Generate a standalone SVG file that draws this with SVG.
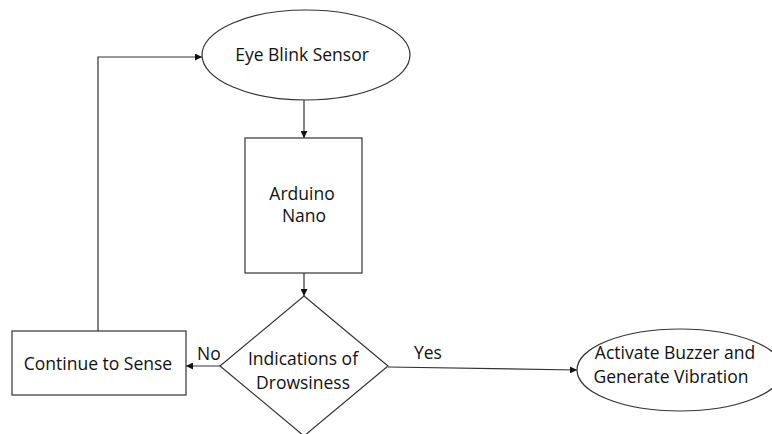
<svg xmlns="http://www.w3.org/2000/svg" width="772" height="434" viewBox="0 0 772 434">
<style>
.s{fill:#fff;stroke:#333;stroke-width:1.2}
.c{fill:none;stroke:#333;stroke-width:1.2}
.t{font-family:"Open Sans","Liberation Sans",sans-serif;font-size:17.5px;fill:#111}
</style>
<defs>
<marker id="a" viewBox="0 0 10 10" refX="10" refY="5" markerWidth="7" markerHeight="7" markerUnits="userSpaceOnUse" orient="auto">
<path d="M0,0 L10,5 L0,10 z" fill="#111"/>
</marker>
</defs>
<rect width="772" height="434" fill="#fff"/>
<g id="connectors">
<line class="c" x1="304" y1="100" x2="304" y2="138" marker-end="url(#a)"/>
<line class="c" x1="304" y1="273" x2="304" y2="296" marker-end="url(#a)"/>
<line class="c" x1="220" y1="366" x2="186" y2="366" marker-end="url(#a)"/>
<line class="c" x1="388" y1="367" x2="577" y2="370" marker-end="url(#a)"/>
<polyline class="c" points="98,331 98,57 202,57" marker-end="url(#a)"/>
<text class="t" x="197" y="360">No</text>
<text class="t" x="414" y="359">Yes</text>
</g>
<g id="eye">
<ellipse class="s" cx="306" cy="55" rx="104" ry="45"/>
<text class="t" x="302" y="61" text-anchor="middle">Eye Blink Sensor</text>
</g>
<g id="arduino">
<rect class="s" x="245" y="138" width="117" height="135"/>
<text class="t" x="302" y="200" text-anchor="middle">Arduino</text>
<text class="t" x="304" y="222" text-anchor="middle">Nano</text>
</g>
<g id="decision">
<polygon class="s" points="304,296 388,366 304,436 220,366"/>
<text class="t" x="303" y="365" text-anchor="middle">Indications of</text>
<text class="t" x="303" y="389" text-anchor="middle">Drowsiness</text>
</g>
<g id="continue">
<rect class="s" x="12" y="331" width="174" height="64"/>
<text class="t" x="98" y="370" text-anchor="middle">Continue to Sense</text>
</g>
<g id="activate">
<ellipse class="s" cx="680" cy="370" rx="103" ry="41"/>
<text class="t" x="675" y="359" text-anchor="middle">Activate Buzzer and</text>
<text class="t" x="671" y="383" text-anchor="middle">Generate Vibration</text>
</g>
</svg>
